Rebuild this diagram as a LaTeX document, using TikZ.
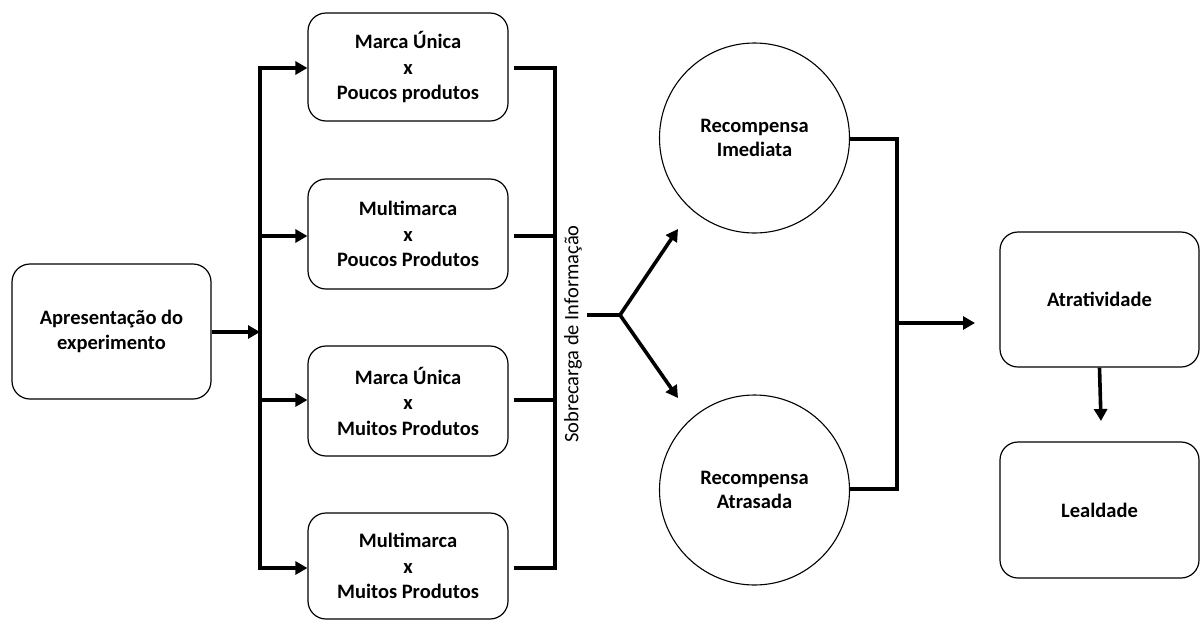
\documentclass[tikz,border=0pt]{standalone}
\usepackage{fontspec}
\setmainfont{Carlito}
\usetikzlibrary{arrows.meta}
\begin{document}
\begin{tikzpicture}[x=1pt,y=-1pt,
  box/.style={draw, line width=1.2pt, rounded corners=18pt, align=center,
    font=\bfseries\fontsize{20.5}{25.5}\selectfont, inner sep=0pt},
  circ/.style={draw, line width=1.1pt, circle, minimum size=190pt, align=center,
    font=\bfseries\fontsize{20.5}{24.5}\selectfont, inner sep=0pt},
  conn/.style={line width=3.6pt},
  arr/.style={line width=3.6pt, -{Triangle[length=12pt,width=13pt]}}]
\useasboundingbox (0,0) rectangle (1200,619);

% input box
\node[box, minimum width=199pt, minimum height=135pt] (apr) at (111.5,331.5) {Apresentação do\\experimento};

% the four conditions
\node[box, minimum width=200pt, minimum height=108pt] (c1) at (408,67) {Marca Única\\x\\Poucos produtos};
\node[box, minimum width=200pt, minimum height=110pt] (c2) at (408,234) {Multimarca\\x\\Poucos Produtos};
\node[box, minimum width=200pt, minimum height=110pt] (c3) at (408,401) {Marca Única\\x\\Muitos Produtos};
\node[box, minimum width=200pt, minimum height=106pt] (c4) at (408,566) {Multimarca\\x\\Muitos Produtos};

% rewards
\node[circ] (ri) at (754.5,138) {Recompensa\\Imediata};
\node[circ] (ra) at (754.5,490) {Recompensa\\Atrasada};

% outcomes
\node[box, minimum width=199pt, minimum height=135pt] (atr) at (1099.5,299.5) {Atratividade};
\node[box, minimum width=199pt, minimum height=136pt] (lea) at (1099.5,510) {Lealdade};

% distribution trunk
\coordinate (tin) at (260,332);
\coordinate (ttop) at (260,68);
\coordinate (tbot) at (260,568);
\draw[arr] (apr.east |- tin) -- (tin);
\draw[conn, line cap=rect] (ttop) -- (tbot);
\draw[arr] (ttop) -- (ttop -| c1.west);
\draw[arr] (260,236) -- (260,236 -| c2.west);
\draw[arr] (260,400) -- (260,400 -| c3.west);
\draw[arr] (tbot) -- (tbot -| c4.west);

% collecting trunk
\coordinate (ctop) at (555,68);
\coordinate (cbot) at (555,568);
\draw[conn, line join=miter] ([xshift=5pt]c1.east |- ctop) -- (ctop) -- (cbot) -- ([xshift=5pt]c4.east |- cbot);
\draw[conn] ([xshift=5pt]c2.east |- 0,236) -- (555,236);
\draw[conn] ([xshift=5pt]c3.east |- 0,400) -- (555,400);

\node[rotate=90, font=\fontsize{20.5}{24}\selectfont] (sob) at (573,334) {Sobrecarga de Informação};

% fork towards the rewards
\coordinate (fork) at (620,315);
\coordinate (fin) at (587,315);
\draw[conn, line join=miter] (fin) -- (fork);
\draw[arr] (fork) -- (678,229);
\draw[arr] (fork) -- (678,398);

% joining the rewards
\coordinate (jtop) at (897,139);
\coordinate (jbot) at (897,489);
\coordinate (jmid) at (897,323);
\draw[conn, line join=miter] (ri.east |- jtop) -- (jtop) -- (jbot) -- (ra.east |- jbot);
\draw[arr] (jmid) -- (975,323);

% atratividade to lealdade
\draw[arr] (atr.south) -- (1101,421);
\end{tikzpicture}
\end{document}
